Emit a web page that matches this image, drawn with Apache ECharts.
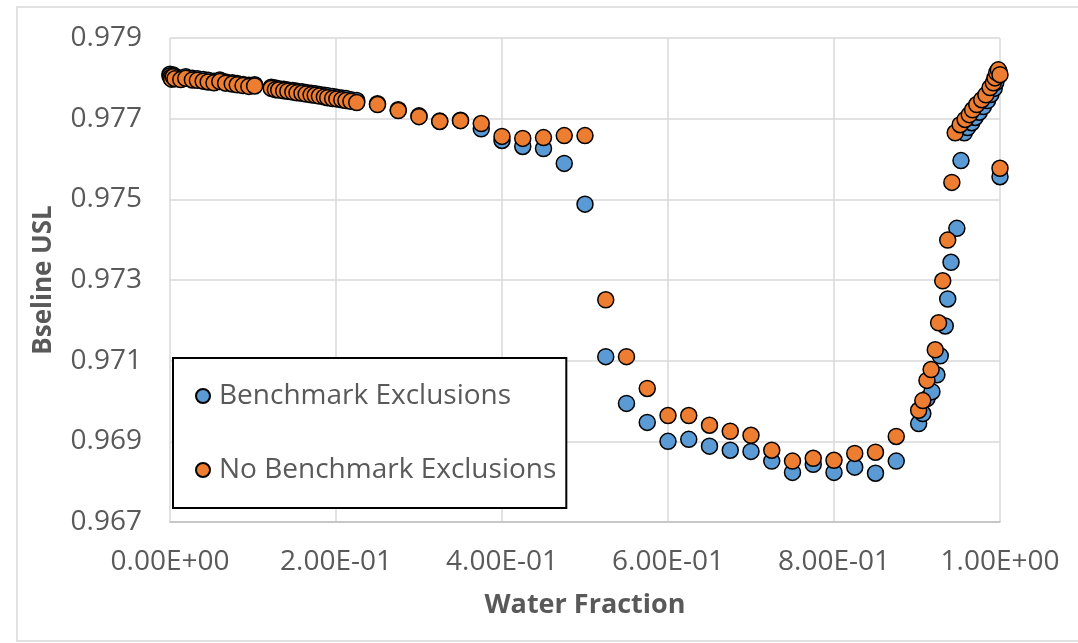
<!DOCTYPE html>
<html>
<head>
    <meta charset="utf-8">
    <title>Bseline USL vs Water Fraction</title>
    <script src="https://cdn.jsdelivr.net/npm/echarts@6/dist/echarts.min.js"></script>
</head>
<body style="margin: 0; background: #fff;">
    <div id="chart" style="width: 1078px; height: 643px;"></div>

    <script>
        // series names
        var seriesNames = ['Benchmark Exclusions', 'No Benchmark Exclusions'];

        // Benchmark Exclusions (blue)
        var blueX = [0, 0.001, 0.002, 0.004, 0.006, 0.013, 0.019, 0.027, 0.033, 0.040, 0.046, 0.053, 0.060, 0.067, 0.075, 0.081, 0.088, 0.095, 0.102,
                     0.122, 0.127, 0.131, 0.137, 0.142, 0.148, 0.153, 0.159, 0.164, 0.170, 0.175, 0.180, 0.186, 0.190, 0.196, 0.201, 0.207, 0.212, 0.218, 0.225,
                     0.25, 0.275, 0.3, 0.325, 0.35, 0.375, 0.4, 0.425, 0.45, 0.475, 0.5,
                     0.525, 0.55, 0.575, 0.6, 0.625, 0.65, 0.675, 0.7, 0.725, 0.75, 0.775, 0.8, 0.825, 0.85, 0.875,
                     0.902, 0.907, 0.912, 0.918, 0.924, 0.928, 0.934, 0.937, 0.941, 0.948, 0.953,
                     0.957, 0.961, 0.966, 0.970, 0.975, 0.980, 0.985, 0.989, 0.993, 0.995, 0.997, 0.999, 1.0];
        var blueY = [0.97810, 0.97806, 0.97803, 0.97808, 0.97803, 0.97801, 0.97804, 0.97800, 0.97799, 0.97797, 0.97795, 0.97793, 0.97796, 0.97791, 0.97789, 0.97787, 0.97785, 0.97783, 0.97784,
                     0.97778, 0.97776, 0.97774, 0.97773, 0.97771, 0.97770, 0.97768, 0.97767, 0.97765, 0.97763, 0.97762, 0.97760, 0.97758, 0.97757, 0.97755, 0.97753, 0.97751, 0.97750, 0.97747, 0.97745,
                     0.97737, 0.97722, 0.97707, 0.97694, 0.97696, 0.97675, 0.97646, 0.97631, 0.97626, 0.97589, 0.97488,
                     0.97110, 0.96994, 0.96947, 0.96900, 0.96905, 0.96888, 0.96878, 0.96875, 0.96851, 0.96823, 0.96843, 0.96823, 0.96836, 0.96821, 0.96851,
                     0.96944, 0.96969, 0.97006, 0.97023, 0.97065, 0.97112, 0.97186, 0.97253, 0.97344, 0.97428, 0.97596,
                     0.97665, 0.97678, 0.97690, 0.97703, 0.97716, 0.97730, 0.97745, 0.97760, 0.97775, 0.97790, 0.97805, 0.97815, 0.97556];

        // No Benchmark Exclusions (orange)
        var orangeX = [0, 0.001, 0.002, 0.004, 0.006, 0.013, 0.019, 0.027, 0.033, 0.040, 0.046, 0.053, 0.060, 0.067, 0.075, 0.081, 0.088, 0.095, 0.102,
                       0.122, 0.127, 0.131, 0.137, 0.142, 0.148, 0.153, 0.159, 0.164, 0.170, 0.175, 0.180, 0.186, 0.190, 0.196, 0.201, 0.207, 0.212, 0.218, 0.225,
                       0.25, 0.275, 0.3, 0.325, 0.35, 0.375, 0.4, 0.425, 0.45, 0.475, 0.5,
                       0.525, 0.55, 0.575, 0.6, 0.625, 0.65, 0.675, 0.7, 0.725, 0.75, 0.775, 0.8, 0.825, 0.85, 0.875,
                       0.902, 0.907, 0.912, 0.917, 0.922, 0.926, 0.931, 0.937, 0.942,
                       0.946, 0.952, 0.958, 0.963, 0.967, 0.972, 0.978, 0.983, 0.988, 0.992, 0.994, 0.996, 0.998, 1.0, 1.0];
        var orangeY = [0.97806, 0.97802, 0.97798, 0.97804, 0.97799, 0.97797, 0.97800, 0.97796, 0.97795, 0.97793, 0.97791, 0.97789, 0.97792, 0.97788, 0.97786, 0.97784, 0.97782, 0.97780, 0.97781,
                       0.97775, 0.97772, 0.97771, 0.97769, 0.97768, 0.97766, 0.97764, 0.97763, 0.97761, 0.97759, 0.97758, 0.97756, 0.97754, 0.97752, 0.97750, 0.97749, 0.97747, 0.97745, 0.97743, 0.97740,
                       0.97735, 0.97720, 0.97705, 0.97693, 0.97695, 0.97688, 0.97656, 0.97651, 0.97653, 0.97658, 0.97658,
                       0.97251, 0.97110, 0.97031, 0.96964, 0.96964, 0.96940, 0.96925, 0.96915, 0.96878, 0.96851, 0.96858, 0.96853, 0.96870, 0.96873, 0.96912,
                       0.96977, 0.97001, 0.97051, 0.97078, 0.97127, 0.97194, 0.97298, 0.97399, 0.97542,
                       0.97665, 0.97685, 0.97698, 0.97710, 0.97722, 0.97735, 0.97747, 0.97759, 0.97777, 0.97789, 0.97801, 0.97814, 0.97821, 0.97809, 0.97577];

        var xTicks = {min: 0, max: 1, interval: 0.2};
        var yTicks = {min: 0.967, max: 0.979, interval: 0.002};

        var textColor = '#595959';
        var gridColor = '#d9d9d9';
        var font = 'Open Sans';

        // 0.6 -> "6.00E-01"
        function sci(v) {
            if (Math.abs(v) < 1e-12) return '0.00E+00';
            var e = Math.floor(Math.log10(Math.abs(v)) + 1e-9);
            var m = v / Math.pow(10, e);
            return m.toFixed(2) + 'E' + (e < 0 ? '-' : '+') + String(Math.abs(e)).padStart(2, '0');
        }

        function pairs(xs, ys) {
            return xs.map((x, i) => [x, ys[i]]);
        }

        function scatter(name, data, color) {
            return {
                name: name,
                type: 'scatter',
                symbol: 'circle',
                symbolSize: 16,
                data: data,
                itemStyle: {
                    color: color,
                    borderColor: '#000',
                    borderWidth: 1.5,
                    opacity: 1
                }
            };
        }

        var chart = echarts.init(document.getElementById('chart'));
        var option = {
            animation: false,
            backgroundColor: '#fff',
            // the light frame round the whole chart area
            graphic: [{
                type: 'rect',
                shape: {x: 17, y: 7, width: 1100, height: 634},
                style: {fill: null, stroke: gridColor, lineWidth: 1.5},
                silent: true
            }],
            grid: {left: 170, right: 78, top: 38, bottom: 121},
            xAxis: {
                type: 'value',
                min: xTicks.min, max: xTicks.max, interval: xTicks.interval,
                name: 'Water Fraction',
                nameLocation: 'middle',
                nameGap: 70,
                nameTextStyle: {color: textColor, fontSize: 27, fontWeight: 'bold', fontFamily: font},
                axisLine: {show: true, lineStyle: {color: '#bfbfbf', width: 1.5}},
                axisTick: {show: false},
                axisLabel: {color: textColor, fontSize: 28, margin: 26, formatter: sci, fontFamily: font},
                splitLine: {show: true, lineStyle: {color: gridColor, width: 1.5}}
            },
            yAxis: {
                type: 'value',
                min: yTicks.min, max: yTicks.max, interval: yTicks.interval,
                name: 'Bseline USL',
                nameLocation: 'middle',
                nameGap: 113,
                nameTextStyle: {color: textColor, fontSize: 26, fontWeight: 'bold', fontFamily: font},
                axisLine: {show: false},
                axisTick: {show: false},
                axisLabel: {color: textColor, fontSize: 28, margin: 28, fontFamily: font,
                            formatter: v => v.toFixed(3)},
                splitLine: {show: true, lineStyle: {color: gridColor, width: 1.5}}
            },
            legend: {
                orient: 'vertical',
                left: 173,
                top: 358,
                padding: [24, 10, 24, 22],
                itemGap: 46,
                itemWidth: 14,
                itemHeight: 14,
                backgroundColor: '#fff',
                borderColor: '#000',
                borderWidth: 2,
                borderRadius: 0,
                textStyle: {color: textColor, fontSize: 28, fontFamily: font, padding: [0, 0, 0, 4]},
                data: seriesNames.map(n => ({name: n, icon: 'circle'}))
            },
            series: [
                scatter(seriesNames[0], pairs(blueX, blueY), '#5b9bd5'),
                scatter(seriesNames[1], pairs(orangeX, orangeY), '#ed7d31')
            ]
        };
        chart.setOption(option);
    </script>
</body>
</html>
